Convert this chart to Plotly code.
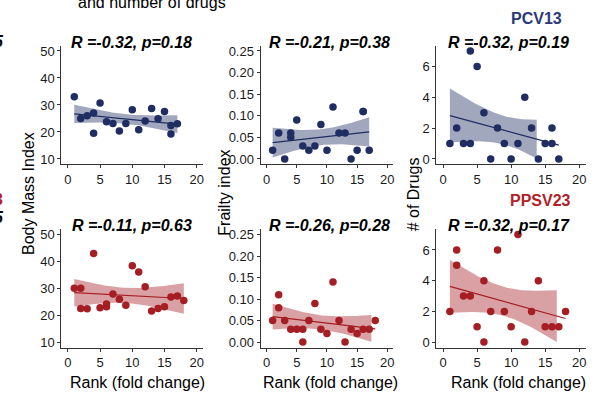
import math
import numpy as np
import plotly.graph_objects as go

# ---- data -------------------------------------------------------------
bmi_pcv_x = [1, 2, 3, 4, 4, 5, 6, 7, 8, 9, 10, 11, 12, 13, 14, 15, 16, 16, 17]
bmi_pcv_y = [33, 25, 26, 27, 19.5, 30.7, 23.8, 23.1, 20.4, 23.1, 28.2, 20.8, 24.1,
             28.7, 24.9, 27.6, 22.4, 19.2, 23.0]

frail_pcv_x = [1, 2, 3, 4, 4, 5, 6, 7, 8, 9, 10, 11, 12, 13, 14, 15, 16, 16, 17]
frail_pcv_y = [0.02, 0.06, 0.00, 0.06, 0.05, 0.09, 0.03, 0.02, 0.03, 0.08, 0.02,
               0.12, 0.06, 0.06, 0.00, 0.02, 0.11, 0.11, 0.02]

drugs_pcv_x = [1, 2, 3, 4, 4, 5, 6, 7, 8, 9, 10, 11, 12, 13, 14, 15, 16, 16, 17]
drugs_pcv_y = [1, 2, 1, 7, 1, 6, 3, 0, 2, 1, 0, 1, 4, 2, 0, 1, 2, 1, 0]

bmi_ppsv_x = [1, 2, 2, 3, 4, 5, 6, 6, 7, 8, 9, 10, 11, 12, 13, 14, 15, 16, 17, 18]
bmi_ppsv_y = [30, 30, 22.5, 22.4, 43, 22.8, 23.2, 24.2, 27.9, 25.9, 23.7, 38.4,
              36.1, 30.6, 21.6, 22.5, 23.2, 26.8, 27.2, 25.5]

frail_ppsv_x = [1, 2, 2, 3, 4, 5, 6, 6, 7, 8, 9, 10, 11, 12, 13, 14, 15, 16, 17, 18]
frail_ppsv_y = [0.05, 0.11, 0.08, 0.05, 0.03, 0.03, 0.03, 0.00, 0.05, 0.09, 0.03,
                0.02, 0.14, 0.05, 0.00, 0.03, 0.02, 0.03, 0.03, 0.05]

drugs_ppsv_x = [1, 2, 2, 3, 4, 5, 6, 6, 7, 8, 9, 10, 11, 12, 13, 14, 15, 16, 17, 18]
drugs_ppsv_y = [2, 6, 5, 3, 3, 1, 4, 0, 2, 6, 2, 1, 7, 0, 2, 4, 1, 1, 1, 2]

stats_pcv = ["R =-0.32, p=0.18", "R =-0.21, p=0.38", "R =-0.32, p=0.19"]
stats_ppsv = ["R =-0.11, p=0.63", "R =-0.26, p=0.28", "R =-0.32, p=0.17"]

x_ticks = [0, 5, 10, 15, 20]
bmi_ticks = [10, 20, 30, 40, 50]
frail_ticks = [0.00, 0.05, 0.10, 0.15, 0.20, 0.25]
drugs_ticks = [0, 2, 4, 6]

NAVY = "#1F2D62"
RED = "#A51E23"
FONT = "Liberation Sans, Arial, sans-serif"
W, H = 596, 399


# ---- helpers ----------------------------------------------------------
def t_quantile(p, df):
    """Student-t quantile by bisection on a numerically integrated CDF."""
    c = math.gamma((df + 1) / 2) / (math.sqrt(df * math.pi) * math.gamma(df / 2))

    def cdf(t):
        g = np.linspace(0, t, 4001)
        dens = c * (1 + g ** 2 / df) ** (-(df + 1) / 2)
        return 0.5 + np.trapezoid(dens, g)

    lo, hi = 0.0, 20.0
    for _ in range(80):
        mid = (lo + hi) / 2
        if cdf(mid) < p:
            lo = mid
        else:
            hi = mid
    return (lo + hi) / 2


def lm_band(x, y, n_grid=80):
    """Least-squares line with its 95% confidence band on an even grid."""
    x = np.asarray(x, float)
    y = np.asarray(y, float)
    n = len(x)
    xb = x.mean()
    sxx = ((x - xb) ** 2).sum()
    b1 = ((x - xb) * (y - y.mean())).sum() / sxx
    b0 = y.mean() - b1 * xb
    resid = y - (b0 + b1 * x)
    s = math.sqrt((resid ** 2).sum() / (n - 2))
    g = np.linspace(x.min(), x.max(), n_grid)
    fit = b0 + b1 * g
    se = s * np.sqrt(1 / n + (g - xb) ** 2 / sxx)
    tq = t_quantile(0.975, n - 2)
    return g, fit, fit - tq * se, fit + tq * se


def px_x(v):
    return v / W


def px_y(v):
    return 1 - v / H


def rgba(hexc, a):
    h = hexc.lstrip("#")
    r, g, b = int(h[0:2], 16), int(h[2:4], 16), int(h[4:6], 16)
    return f"rgba({r},{g},{b},{a})"


fig = go.Figure()

# panel geometry in pixels: (left, right) per column, (top, bottom) per row
cols = [(61.5, 203.5), (261, 394), (437, 587)]
rows = [(44, 164), (229.5, 349)]

panels = [
    # row, col, x, y, limits, ticks, colour, tickformat
    (0, 0, bmi_pcv_x, bmi_pcv_y, (10, 50), bmi_ticks, NAVY, None),
    (0, 1, frail_pcv_x, frail_pcv_y, (0, 0.25), frail_ticks, NAVY, ".2f"),
    (0, 2, drugs_pcv_x, drugs_pcv_y, (0, 7), drugs_ticks, NAVY, None),
    (1, 0, bmi_ppsv_x, bmi_ppsv_y, (10, 50), bmi_ticks, RED, None),
    (1, 1, frail_ppsv_x, frail_ppsv_y, (0, 0.25), frail_ticks, RED, ".2f"),
    (1, 2, drugs_ppsv_x, drugs_ppsv_y, (0, 7), drugs_ticks, RED, None),
]

for i, (r, c, xs, ys, lim, yt, col, fmt) in enumerate(panels, start=1):
    xa = "x" if i == 1 else f"x{i}"
    ya = "y" if i == 1 else f"y{i}"
    g, fit, lo, hi = lm_band(xs, ys)

    # confidence band, censored to the axis limits (split where it leaves them)
    ok = (lo >= lim[0]) & (hi <= lim[1])
    idx = np.where(ok)[0]
    if len(idx):
        segs = np.split(idx, np.where(np.diff(idx) > 1)[0] + 1)
        for sgi in segs:
            bx = np.concatenate([g[sgi], g[sgi][::-1]])
            by = np.concatenate([hi[sgi], lo[sgi][::-1]])
            fig.add_trace(go.Scatter(x=bx, y=by, mode="lines", fill="toself",
                                     fillcolor=rgba(col, 0.42), line=dict(width=0),
                                     hoverinfo="skip", showlegend=False,
                                     xaxis=xa, yaxis=ya))
    fig.add_trace(go.Scatter(x=g, y=fit, mode="lines", line=dict(color=col, width=1.2),
                             showlegend=False, xaxis=xa, yaxis=ya))
    fig.add_trace(go.Scatter(x=xs, y=ys, mode="markers",
                             marker=dict(color=col, size=7.5, line=dict(width=0)),
                             showlegend=False, xaxis=xa, yaxis=ya))

    span = lim[1] - lim[0]
    x0, x1 = cols[c]
    y0, y1 = rows[r]
    axis_common = dict(showline=True, linecolor="#333333", linewidth=1,
                       ticks="outside", ticklen=3, tickcolor="#333333", tickwidth=1,
                       showgrid=False, zeroline=False,
                       tickfont=dict(family=FONT, size=13, color="#1a1a1a"))
    fig.update_layout(**{
        ("xaxis" if i == 1 else f"xaxis{i}"): dict(
            domain=[px_x(x0), px_x(x1)], range=[-1, 21], tickvals=x_ticks,
            anchor=ya, **axis_common),
        ("yaxis" if i == 1 else f"yaxis{i}"): dict(
            domain=[px_y(y1), px_y(y0)],
            range=[lim[0] - 0.05 * span, lim[1] + 0.05 * span],
            tickvals=yt, tickformat=fmt, anchor=xa, **axis_common),
    })

ann = []


def text(x, y, s, size=16, color="black", xanchor="center", yanchor="middle", angle=0):
    ann.append(dict(x=px_x(x), y=px_y(y), xref="paper", yref="paper", text=s,
                    showarrow=False, xanchor=xanchor, yanchor=yanchor, textangle=angle,
                    font=dict(family=FONT, size=size, color=color)))


# panel statistics
for (cx, s) in zip([131.5, 330, 509.5], stats_pcv):
    text(cx, 41, f"<b><i>{s}</i></b>")
for (cx, s) in zip([132, 330, 509.5], stats_ppsv):
    text(cx, 226, f"<b><i>{s}</i></b>")

# vaccine labels
text(537, 17, "<b>PCV13</b>", color="#2B3A78")
text(541.5, 201, "<b>PPSV23</b>", color="#B02227")

# axis titles
for cx in [138, 331, 519.5]:
    text(cx, 384, "Rank (fold change)")
text(28, 193, "Body Mass Index", angle=-90)
text(224, 193, "Frailty index", angle=-90)
text(414, 194, "# of Drugs", angle=-90)

# heading line and neighbouring labels at the edges
text(152, 11, "and number of drugs", yanchor="bottom")
text(6, 40, "<b><i>5</i></b>", xanchor="right")
text(5, 200, "<b>3</b>", color="#B02227", xanchor="right")
text(6, 218, "<b><i>5</i></b>", xanchor="right")

fig.update_layout(width=W, height=H, margin=dict(l=0, r=0, t=0, b=0),
                  paper_bgcolor="white", plot_bgcolor="white",
                  annotations=ann, showlegend=False)

fig.write_html("out.html")
